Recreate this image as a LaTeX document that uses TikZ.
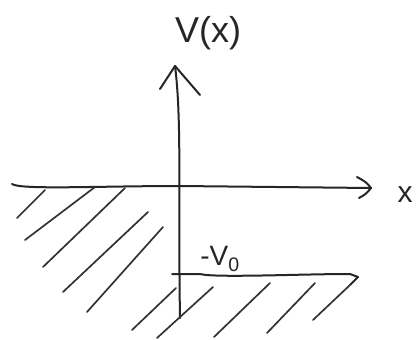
\documentclass[tikz,border=0pt]{standalone}
\usepackage{fontspec}
\setmainfont{Liberation Sans}
\begin{document}
\begin{tikzpicture}[x=1pt,y=-1pt,
  ink/.style={line width=2pt,draw=black!85,line cap=round,line join=round},
  hatch/.style={line width=1.7pt,draw=black!80,line cap=round},
  lbl/.style={inner sep=0pt,text=black!85}]
\useasboundingbox[fill=white] (0,0) rectangle (419,339);
% axes
\coordinate (ytop) at (175,66);
\coordinate (ybot) at (180,318);
\coordinate (xl) at (12,184);
\coordinate (xr) at (371,188);
\draw[ink] (ybot) .. controls (178,200) and (182,120) .. (ytop);
\draw[ink] (160,89) -- (ytop) -- (200,95);
\draw[ink] (xl) .. controls (20,190) and (100,186) .. (180,186) -- (xr);
\draw[ink] (357,177) .. controls (366,182) .. (xr) .. controls (366,194) .. (359,198);
% -V0 level
\coordinate (vl) at (172,274);
\coordinate (vr) at (350,274);
\draw[ink] (vl) -- (200,274) .. controls (215,278) and (300,274) .. (vr) -- (358,277) -- (350,285);
% labels
\node[lbl,font=\fontsize{36}{36}\selectfont] (vx) at (208,33) {V(x)};
\node[lbl,font=\fontsize{30}{30}\selectfont] (xlab) at (405,195) {x};
\node[lbl,font=\fontsize{28}{28}\selectfont] (v0) at (220,259) {-V\textsubscript{0}};
% hatching left
\draw[hatch] (17,218) -- (45,190);
\draw[hatch] (25,240) -- (95,187);
\draw[hatch] (43,267) -- (125,188);
\draw[hatch] (63,292) -- (148,212);
\draw[hatch] (87,312) -- (163,227);
% hatching right
\draw[hatch] (132,330) -- (176,288);
\draw[hatch] (157,338) -- (213,287);
\draw[hatch] (214,337) -- (270,283);
\draw[hatch] (267,333) -- (315,283);
\draw[hatch] (313,320) -- (350,285);
\end{tikzpicture}
\end{document}
